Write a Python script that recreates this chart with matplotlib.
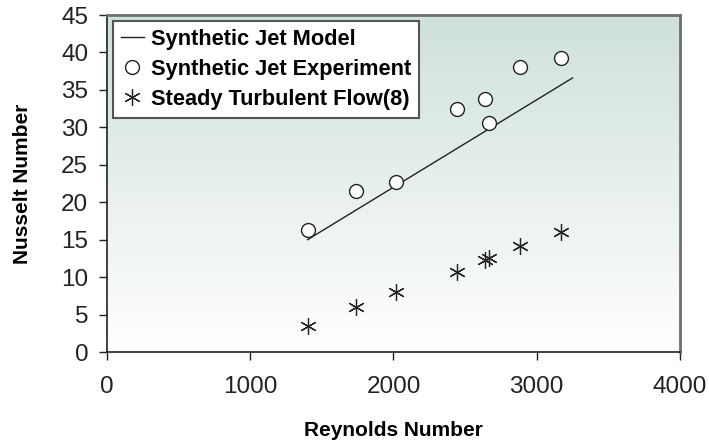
import numpy as np
import matplotlib.pyplot as plt
from matplotlib.colors import LinearSegmentedColormap

# data
re_model = [1400, 3250]
nu_model = [15.0, 36.6]

re_exp = [1400, 1740, 2020, 2440, 2640, 2670, 2880, 3170]
nu_exp = [16.3, 21.5, 22.7, 32.4, 33.8, 30.6, 38.1, 39.3]

re_turb = [1400, 1740, 2020, 2440, 2640, 2670, 2880, 3170]
nu_turb = [3.5, 6.0, 8.0, 10.7, 12.3, 12.6, 14.1, 16.0]

xticks = [0, 1000, 2000, 3000, 4000]
yticks = [0, 5, 10, 15, 20, 25, 30, 35, 40, 45]

plt.rcParams['font.family'] = ['Liberation Sans', 'DejaVu Sans']

fig = plt.figure(figsize=(7.09, 4.43), dpi=100)
ax = fig.add_axes([0.1509, 0.2054, 0.8082, 0.7607])

# background gradient, green-gray on top fading to white
cmap = LinearSegmentedColormap.from_list('bg', ['#ffffff', '#cfe1d9'])
grad = np.linspace(0, 1, 256).reshape(-1, 1)
ax.imshow(grad, cmap=cmap, aspect='auto', origin='lower',
          extent=[0, 1, 0, 1], transform=ax.transAxes, zorder=0)

ax.plot(re_model, nu_model, color='#222222', lw=1.0, zorder=3,
        label='Synthetic Jet Model')
ax.plot(re_exp, nu_exp, ls='none', marker='o', ms=10, mfc='white',
        mec='#222222', mew=1.0, zorder=4, label='Synthetic Jet Experiment')
ax.plot(re_turb, nu_turb, ls='none', marker=(6, 2, 0), ms=12,
        mec='#222222', mew=0.9, zorder=4, label='Steady Turbulent Flow(8)')

ax.set_xlim(0, 4000)
ax.set_ylim(0, 45)
ax.set_xticks(xticks)
ax.set_yticks(yticks)
ax.tick_params(direction='out', length=5.5, width=1, labelsize=17.5,
               colors='#222222')
ax.tick_params(axis='y', pad=8)
ax.tick_params(axis='x', pad=12)

for s in ['left', 'bottom']:
    ax.spines[s].set_color('#222222')
    ax.spines[s].set_linewidth(1.2)
for s in ['top', 'right']:
    ax.spines[s].set_color('#707070')
    ax.spines[s].set_linewidth(2)

ax.set_xlabel('Reynolds Number', fontsize=15, fontweight='bold')
ax.set_ylabel('Nusselt Number', fontsize=15, fontweight='bold')
ax.xaxis.set_label_coords(0.5, -0.205)
ax.yaxis.set_label_coords(-0.131, 0.5)

leg = ax.legend(loc='upper left', bbox_to_anchor=(0.0105, 0.982),
                prop={'weight': 'bold', 'size': 15.7}, frameon=True,
                fancybox=False, edgecolor='#555555', framealpha=1,
                handlelength=1.05, handletextpad=0.35, borderpad=0.35,
                labelspacing=0.42, borderaxespad=0)
leg.get_frame().set_linewidth(1.5)

fig.savefig('out.png', dpi=100)
